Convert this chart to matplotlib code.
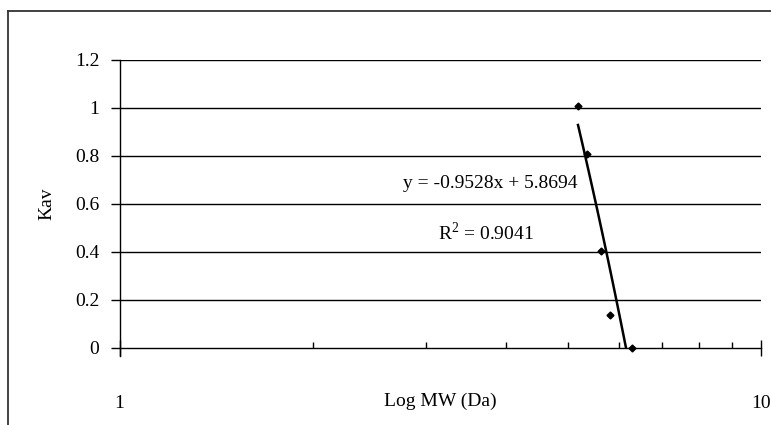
import numpy as np
import matplotlib.pyplot as plt
from matplotlib.lines import Line2D
from matplotlib.ticker import FixedLocator, NullFormatter

plt.rcParams['font.family'] = ['Liberation Serif', 'DejaVu Serif']
plt.rcParams['mathtext.fontset'] = 'custom'
plt.rcParams['mathtext.rm'] = 'Liberation Serif'

# data
log_mw = [5.185, 5.35, 5.628, 5.824, 6.292]
kav = [1.007, 0.808, 0.405, 0.136, 0.0]
slope, intercept = -0.9528, 5.8694
r2 = 0.9041
y_ticks = [0, 0.2, 0.4, 0.6, 0.8, 1.0, 1.2]
y_ticklabels = ['0', '0.2', '0.4', '0.6', '0.8', '1', '1.2']

fig = plt.figure(figsize=(7.71, 4.25), dpi=100)
ax = fig.add_axes([119.5 / 771, 77 / 425, 641.5 / 771, 288 / 425])

# outer chart border (top and left visible)
fig.add_artist(Line2D([8 / 771, 8 / 771], [-0.05, 414 / 425], transform=fig.transFigure,
                      color='#333333', lw=1.3))
fig.add_artist(Line2D([8 / 771, 1.05], [414 / 425, 414 / 425], transform=fig.transFigure,
                      color='#333333', lw=1.3))

ax.set_xscale('log')
ax.set_xlim(1, 10)
ax.set_ylim(0, 1.2)

# trendline
xt = np.linspace(min(log_mw), max(log_mw), 100)
ax.plot(xt, slope * xt + intercept, color='black', lw=1.8, zorder=3)
ax.plot(log_mw, kav, 'D', color='black', markersize=3.5, zorder=4, clip_on=False)

ax.text(3.78, 0.6875, 'y = -0.9528x + 5.8694', ha='center', va='center', fontsize=14)
ax.text(3.72, 0.479, 'R$^{\\mathrm{2}}$ = %.4f' % r2, ha='center', va='center', fontsize=14)

for y in y_ticks[1:]:
    ax.axhline(y, color='black', lw=1.0, zorder=1)

for s in ['top', 'right']:
    ax.spines[s].set_visible(False)
ax.spines['left'].set_linewidth(1.0)
ax.spines['bottom'].set_linewidth(1.0)
ax.spines['left'].set_bounds(-0.035, 1.2)

ax.set_yticks(y_ticks)
ax.set_yticklabels(y_ticklabels)
ax.tick_params(axis='y', direction='out', length=6.5, width=1.0, pad=8, labelsize=14)

ax.xaxis.set_major_locator(FixedLocator([1, 10]))
ax.xaxis.set_minor_locator(FixedLocator([2, 3, 4, 5, 6, 7, 8, 9]))
ax.xaxis.set_minor_formatter(NullFormatter())
ax.set_xticklabels(['1', '10'])
ax.tick_params(axis='x', which='major', direction='inout', length=11, width=1.0,
               pad=28, labelsize=14)
ax.tick_params(axis='x', which='minor', direction='in', length=4.5, width=1.0)

ax.set_xlabel('Log MW (Da)', fontsize=14)
ax.xaxis.set_label_coords(0.5, -0.155)
ax.set_ylabel('Kav', fontsize=14)
ax.yaxis.set_label_coords(-0.1, 0.5)

fig.savefig('out.png', dpi=100)
